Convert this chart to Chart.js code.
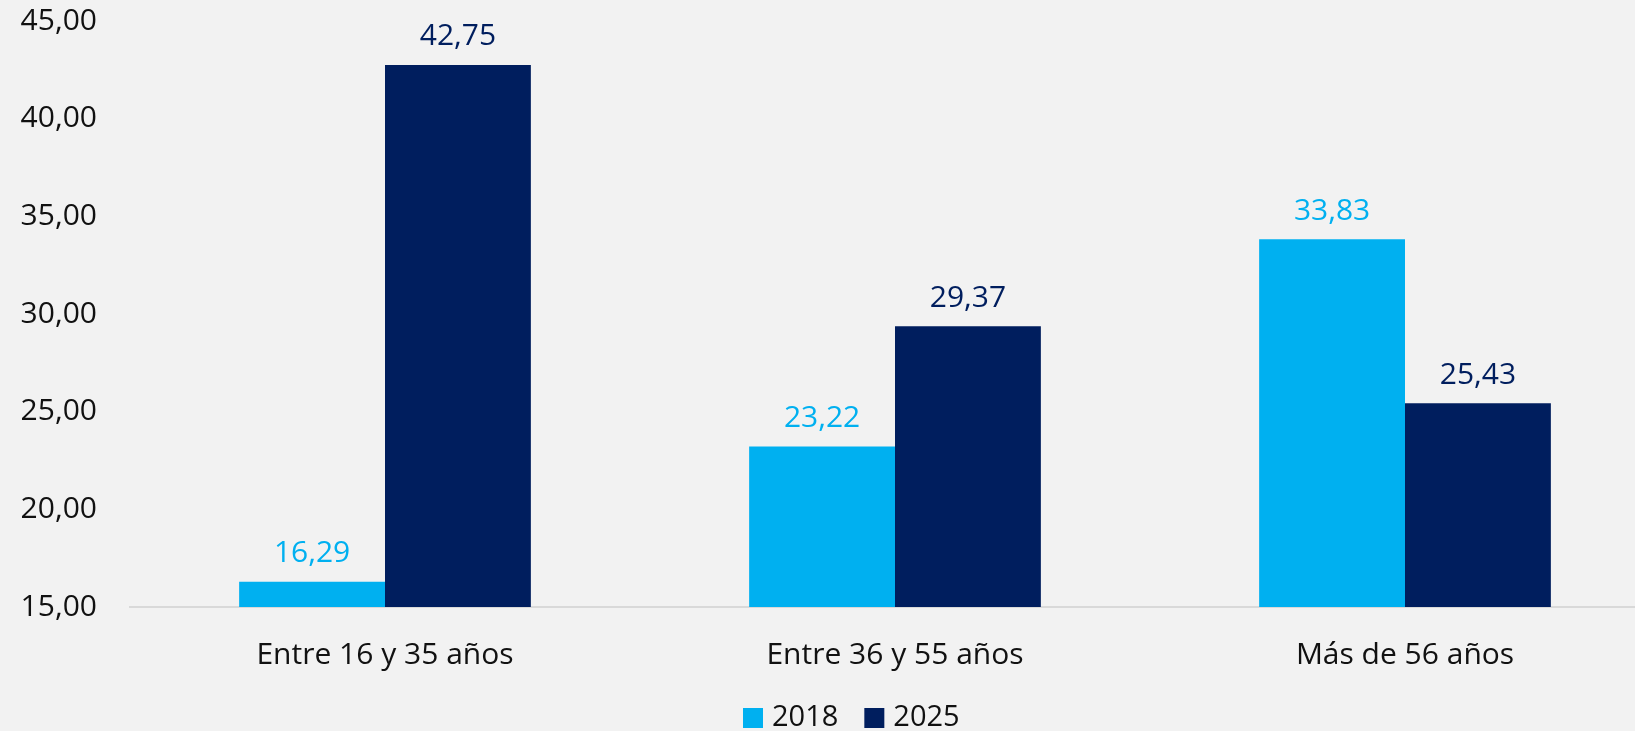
<!DOCTYPE html>
<html>
<head>
<meta charset="utf-8">
<script src="https://cdn.jsdelivr.net/npm/chart.js@4"></script>
<style>
  html, body { margin: 0; padding: 0; overflow: hidden; background: #F2F2F2; }
  #wrap { width: 1662px; height: 731px; }
</style>
</head>
<body>
<div id="wrap"><canvas id="myChart" width="1662" height="731"></canvas></div>
<script>
const categories = ['Entre 16 y 35 años', 'Entre 36 y 55 años', 'Más de 56 años'];
const seriesNames = ['2018', '2025'];
const values2018 = [16.29, 23.22, 33.83];
const values2025 = [42.75, 29.37, 25.43];
const seriesColors = ['#00B0F0', '#001E5E'];
const yMin = 15;
const yMax = 45;
const yStep = 5;

const FONT = "'Open Sans', sans-serif";
const fmt = (v) => v.toFixed(2).replace('.', ',');

// values above each bar, in the bar's colour
const valueLabels = {
  id: 'valueLabels',
  afterDatasetsDraw(chart) {
    const { ctx } = chart;
    ctx.save();
    ctx.font = `30px ${FONT}`;
    ctx.textAlign = 'center';
    ctx.textBaseline = 'middle';
    chart.data.datasets.forEach((ds, i) => {
      const meta = chart.getDatasetMeta(i);
      meta.data.forEach((bar, j) => {
        ctx.fillStyle = ds.backgroundColor;
        ctx.fillText(fmt(ds.data[j]), bar.x, bar.y - 28);
      });
    });
    ctx.restore();
  },
};

// legend under the axis labels
const bottomLegend = {
  id: 'bottomLegend',
  afterDraw(chart) {
    const { ctx } = chart;
    ctx.save();
    ctx.font = `29px ${FONT}`;
    ctx.textBaseline = 'middle';
    let x = 743;
    const y = 718;
    chart.data.datasets.forEach((ds) => {
      ctx.fillStyle = ds.backgroundColor;
      ctx.fillRect(x, y - 10, 20, 20);
      ctx.fillStyle = '#111';
      ctx.textAlign = 'left';
      ctx.fillText(ds.label, x + 29, y);
      x += 29 + ctx.measureText(ds.label).width + 26;
    });
    ctx.restore();
  },
};

const ctx = document.getElementById('myChart');

new Chart(ctx, {
  type: 'bar',
  data: {
    labels: categories,
    datasets: [
      {
        label: seriesNames[0],
        data: values2018,
        backgroundColor: seriesColors[0],
        borderWidth: 0,
      },
      {
        label: seriesNames[1],
        data: values2025,
        backgroundColor: seriesColors[1],
        borderWidth: 0,
      },
    ],
  },
  options: {
    responsive: false,
    animation: false,
    categoryPercentage: 0.572,
    barPercentage: 1.0,
    layout: {
      padding: { left: 19, right: 2, top: 6, bottom: 28 },
    },
    scales: {
      x: {
        grid: { display: false, drawTicks: false },
        border: { display: true, color: '#D9D9D9', width: 2 },
        ticks: {
          color: '#111',
          padding: 30,
          font: { size: 30, family: FONT },
        },
      },
      y: {
        min: yMin,
        max: yMax,
        afterFit: (scale) => { scale.width = 111; },
        grid: { display: false, drawTicks: true, tickLength: 30 },
        border: { display: false },
        ticks: {
          stepSize: yStep,
          color: '#111',
          padding: 3,
          font: { size: 30, family: FONT },
          callback: (value) => fmt(value),
        },
      },
    },
    plugins: {
      legend: { display: false },
      tooltip: { enabled: false },
    },
  },
  plugins: [valueLabels, bottomLegend],
});
</script>
</body>
</html>
